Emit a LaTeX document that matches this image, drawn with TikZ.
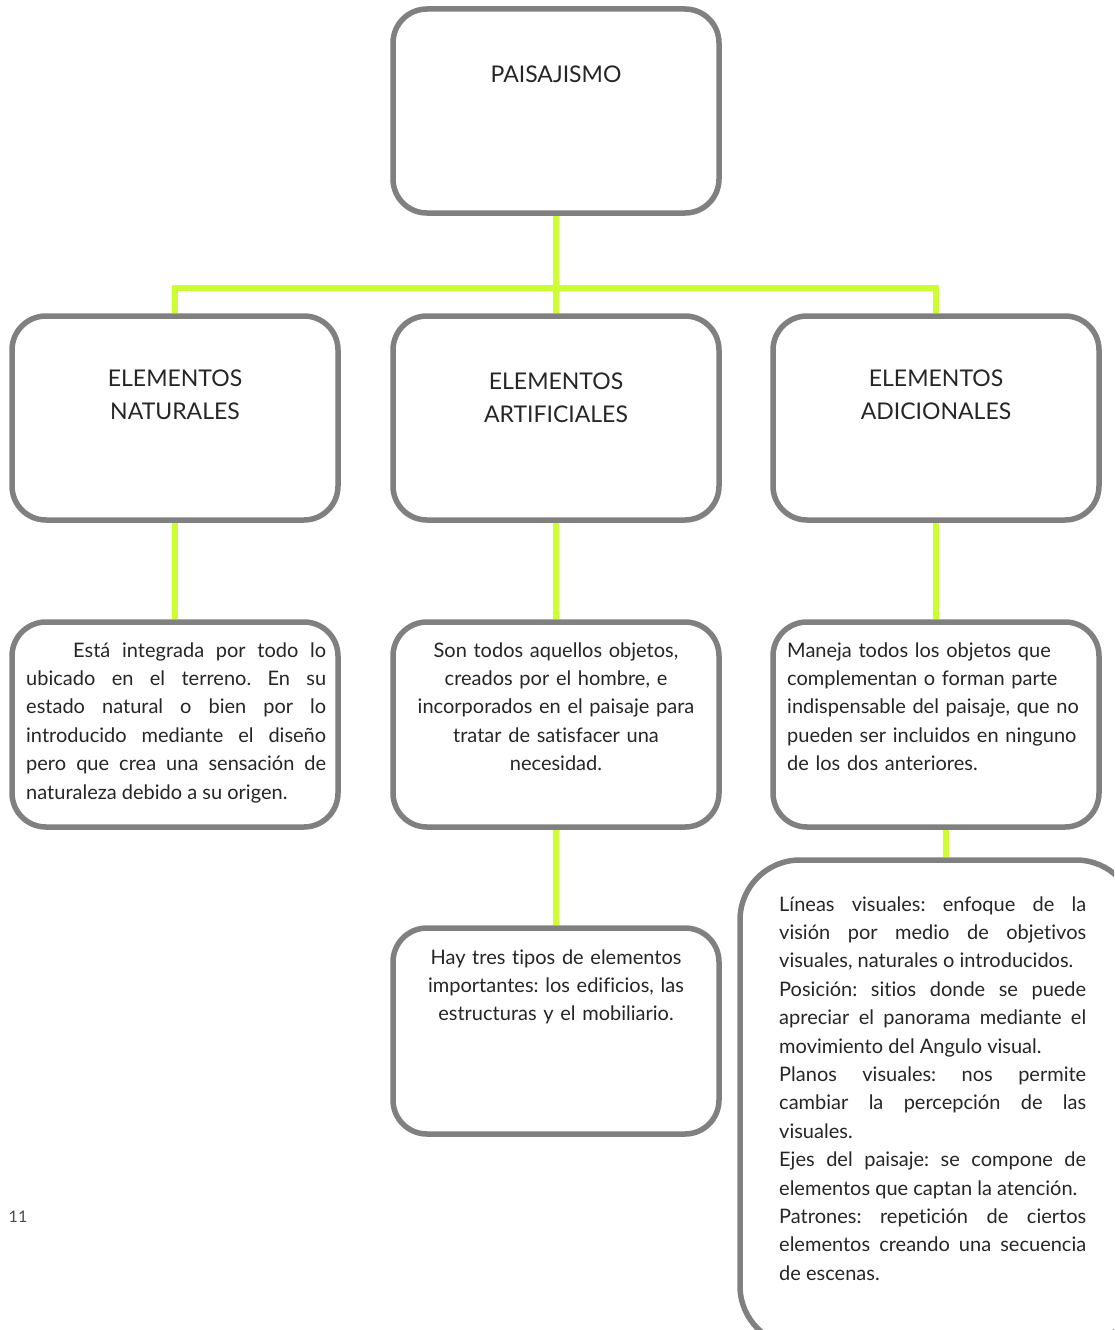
\documentclass[tikz,border=0pt]{standalone}
\usepackage{fontspec}
\setmainfont{Lato}[Ligatures={NoCommon}]
\usetikzlibrary{backgrounds}
\definecolor{boxgray}{HTML}{808080}
\definecolor{linegreen}{HTML}{CCFF33}
\definecolor{ink}{HTML}{262626}
\tolerance=10000
\hyphenpenalty=10000
\frenchspacing
\begin{document}
\begin{tikzpicture}[x=1pt,y=-1pt,
  box/.style={draw=boxgray, line width=5.5pt, rounded corners=34pt, fill=white, inner sep=0pt, minimum width=326pt, minimum height=204pt},
  bigbox/.style={box, rounded corners=60pt, minimum width=396pt, minimum height=486pt},
  conn/.style={draw=linegreen, line width=6pt},
  head/.style={font=\fontsize{23}{33}\selectfont, text=ink, align=center, inner sep=0pt},
  body/.style={font=\fontsize{20}{28.4}\selectfont, text=ink, inner sep=0pt},
]
\useasboundingbox (0,0) rectangle (1114,1330);
\clip (0,0) rectangle (1114,1330);

% boxes
\node[box] (top) at (556,111) {};
\node[box] (nat) at (175,418) {};
\node[box] (art) at (556,418) {};
\node[box] (adi) at (936,418) {};
\node[box, minimum height=205pt] (natd) at (175,724.5) {};
\node[box, minimum height=205pt] (artd) at (556,724.5) {};
\node[box, minimum height=205pt] (adid) at (936,724.5) {};
\node[box, minimum height=206pt] (arte) at (556,1031) {};
\node[bigbox] (lin) at (938,1103) {};

% headings
\node[head] (toptxt) at (556,74) {PAISAJISMO};
\node[head] (nattxt) at (175,394.5) {ELEMENTOS\\NATURALES};
\node[head] (arttxt) at (556,397.5) {ELEMENTOS\\ARTIFICIALES};
\node[head] (aditxt) at (936,394.5) {ELEMENTOS\\ADICIONALES};

% body texts
\node[body, anchor=north west, text width=300pt, align=justify] (natdtxt) at (26,637)
 {\strut\hspace*{47pt}Está integrada por todo lo\linebreak
  ubicado en el terreno. En su\linebreak
  estado natural o bien por lo\linebreak
  introducido mediante el diseño\linebreak
  pero que crea una sensación de\linebreak
  naturaleza debido a su origen.};
\node[body, anchor=north, text width=300pt, align=center] (artdtxt) at (556,637)
 {\strut Son todos aquellos objetos,\\
  creados por el hombre, e\\
  incorporados en el paisaje para\\
  tratar de satisfacer una\\
  necesidad.};
\node[body, anchor=north west, text width=310pt, align=left] (adidtxt) at (787,637)
 {\strut Maneja todos los objetos que\\
  complementan o forman parte\\
  indispensable del paisaje, que no\\
  pueden ser incluidos en ninguno\\
  de los dos anteriores.};
\node[body, anchor=north, text width=300pt, align=center] (artetxt) at (556,944)
 {\strut Hay tres tipos de elementos\\
  importantes: los edificios, las\\
  estructuras y el mobiliario.};
\node[body, anchor=north west, text width=307pt, align=justify] (lintxt) at (779,891)
 {\strut Líneas visuales: enfoque de la\linebreak
  visión por medio de objetivos\linebreak
  visuales, naturales o introducidos.\par
  Posición: sitios donde se puede\linebreak
  apreciar el panorama mediante el\linebreak
  movimiento del Angulo visual.\par
  Planos visuales: nos permite\linebreak
  cambiar la percepción de las\linebreak
  visuales.\par
  Ejes del paisaje: se compone de\linebreak
  elementos que captan la atención.\par
  Patrones: repetición de ciertos\linebreak
  elementos creando una secuencia\linebreak
  de escenas.};

\node[font=\fontsize{16}{18}\selectfont, text=black!70, inner sep=0pt] (pnum) at (18,1217) {11};

% connectors
\begin{scope}[on background layer]
\fill[white] (0,0) rectangle (1114,1330);
\coordinate (hub) at (556,288);
\draw[conn] (top.south) -- (hub);
\draw[conn] (nat.north) |- (hub) -| (adi.north);
\draw[conn] (hub) -- (art.north);
\draw[conn] (nat.south) -- (natd.north);
\draw[conn] (art.south) -- (artd.north);
\draw[conn] (adi.south) -- (adid.north);
\draw[conn] (artd.south) -- (arte.north);
\draw[conn] ([xshift=10pt]adid.south) -- ([xshift=10pt]adid.south |- lin.north);
\end{scope}
\end{tikzpicture}
\end{document}
